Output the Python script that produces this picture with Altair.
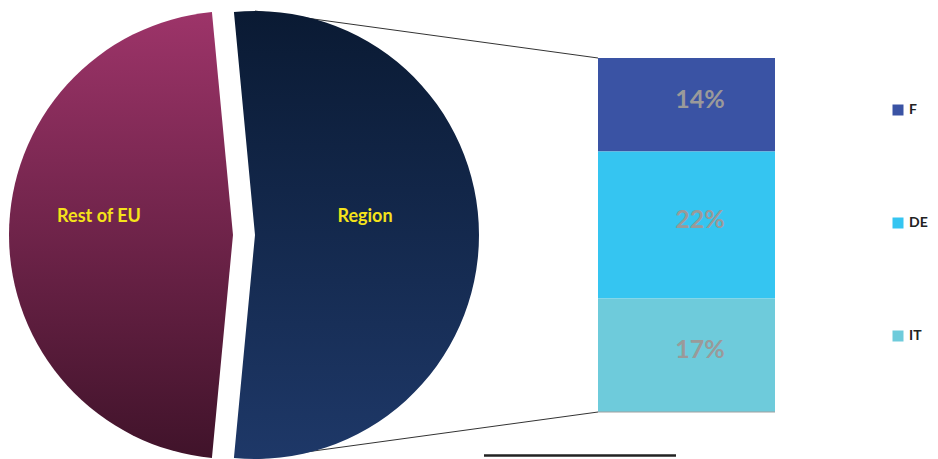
import math
import altair as alt
import pandas as pd

# ---------------- data ----------------
slices = ["Region", "Rest of EU"]
slice_values = [53, 47]
slice_order = [0, 1]

countries = ["F", "DE", "IT"]
country_values = [14, 22, 17]
country_stack_order = [2, 1, 0]          # IT at the bottom, F on top
country_colors = ["#3a53a4", "#35c5f1", "#6ecbdb"]

# ---------------- layout / style ----------------
W, H = 922, 451
PIE_CY = 227
PIE_R = 224
REST_CX = 225
REGION_CX = 247
BAR_X0, BAR_X1 = 590, 767
BAR_TOP, BAR_BOTTOM = 50, 404
FONT = "Lato"

grad_region = alt.LinearGradient(
    gradient="linear", x1=0, y1=0, x2=0, y2=1,
    stops=[alt.GradientStop(offset=0, color="#0a1a33"),
           alt.GradientStop(offset=1, color="#1e3868")])
grad_rest = alt.LinearGradient(
    gradient="linear", x1=0, y1=0, x2=0, y2=1,
    stops=[alt.GradientStop(offset=0, color="#9d3469"),
           alt.GradientStop(offset=1, color="#40132a")])

pie_df = pd.DataFrame({"slice": slices, "value": slice_values, "order": slice_order})
bar_df = pd.DataFrame({"country": countries, "value": country_values,
                       "order": country_stack_order})

total = sum(slice_values)
region_share = slice_values[0] / total
theta_start = math.pi / 2 - math.pi * region_share + 2 * math.pi
theta_scale = alt.Scale(domain=[0, total], range=[theta_start, theta_start + 2 * math.pi])
y_scale = alt.Scale(domain=[0, sum(country_values)], range=[BAR_BOTTOM, BAR_TOP])

one = pd.DataFrame({"k": [0]})

# connector lines (drawn beneath the pie)
conn_top = alt.Chart(one).mark_rule(color="#333333", strokeWidth=1).encode(
    x=alt.value(REGION_CX), y=alt.value(PIE_CY - PIE_R),
    x2=alt.value(BAR_X0), y2=alt.value(BAR_TOP))
conn_bot = alt.Chart(one).mark_rule(color="#333333", strokeWidth=1).encode(
    x=alt.value(REGION_CX), y=alt.value(PIE_CY + PIE_R),
    x2=alt.value(BAR_X0), y2=alt.value(BAR_BOTTOM))

pie_base = alt.Chart(pie_df).transform_window(
    cum="sum(value)", sort=[alt.SortField("order")], frame=[None, 0]
).transform_calculate(
    start="datum.cum - datum.value", mid="datum.cum - datum.value / 2"
)

region_arc = pie_base.transform_filter("datum.slice === 'Region'").mark_arc(
    radius=PIE_R, fill=grad_region).encode(
    theta=alt.Theta("start:Q", scale=theta_scale),
    theta2=alt.Theta2("cum:Q"),
    x=alt.value(REGION_CX), y=alt.value(PIE_CY))
rest_arc = pie_base.transform_filter("datum.slice === 'Rest of EU'").mark_arc(
    radius=PIE_R, fill=grad_rest).encode(
    theta=alt.Theta("start:Q", scale=theta_scale),
    theta2=alt.Theta2("cum:Q"),
    x=alt.value(REST_CX), y=alt.value(PIE_CY))

label_style = dict(font=FONT, fontSize=18, fontWeight="bold", color="#f5e31a",
                   align="center", baseline="alphabetic", dy=-13)
region_lbl = pie_base.transform_filter("datum.slice === 'Region'").mark_text(
    radius=110, **label_style).encode(
    theta=alt.Theta("mid:Q", scale=theta_scale), text="slice:N",
    x=alt.value(REGION_CX), y=alt.value(PIE_CY))
rest_lbl = pie_base.transform_filter("datum.slice === 'Rest of EU'").mark_text(
    radius=134, **label_style).encode(
    theta=alt.Theta("mid:Q", scale=theta_scale), text="slice:N",
    x=alt.value(REST_CX), y=alt.value(PIE_CY))

bar_base = alt.Chart(bar_df).transform_window(
    cum="sum(value)", sort=[alt.SortField("order")], frame=[None, 0]
).transform_calculate(
    start="datum.cum - datum.value",
    mid="datum.cum - datum.value / 2",
    label="datum.value + '%'"
)

bars = bar_base.mark_bar().encode(
    x=alt.value(BAR_X0), x2=alt.value(BAR_X1),
    y=alt.Y("start:Q", scale=y_scale, axis=None),
    y2=alt.Y2("cum:Q"),
    color=alt.Color("country:N",
                    scale=alt.Scale(domain=countries, range=country_colors),
                    legend=alt.Legend(orient="none", legendX=883, legendY=95,
                                      title=None, symbolType="square",
                                      symbolSize=121, symbolStrokeWidth=0,
                                      symbolOpacity=1, padding=0,
                                      rowPadding=99, labelOffset=4,
                                      labelFont=FONT, labelFontSize=14,
                                      labelFontWeight="bold", labelColor="#222222")))

bar_text = bar_base.mark_text(font=FONT, fontSize=25, fontWeight="bold", color="#9a9a9a",
                              align="center", baseline="middle", dy=-5).encode(
    x=alt.value(692),
    y=alt.Y("mid:Q", scale=y_scale, axis=None),
    text="label:N")

bar_base_line = alt.Chart(one).mark_rule(color="#a0a0a0", strokeWidth=1).encode(
    x=alt.value(BAR_X0), x2=alt.value(BAR_X1),
    y=alt.value(BAR_BOTTOM))
bottom_line = alt.Chart(one).mark_rule(color="#222222", strokeWidth=2.5).encode(
    x=alt.value(476), x2=alt.value(668), y=alt.value(447.5))

chart = alt.layer(
    conn_top, conn_bot, rest_arc, region_arc, rest_lbl, region_lbl,
    bars, bar_base_line, bar_text, bottom_line
).properties(
    width=W, height=H, padding=0,
    autosize=alt.AutoSizeParams(type="none")
).configure_view(stroke=None)

chart.save("out.html", embed_options={"renderer": "svg", "actions": False})
